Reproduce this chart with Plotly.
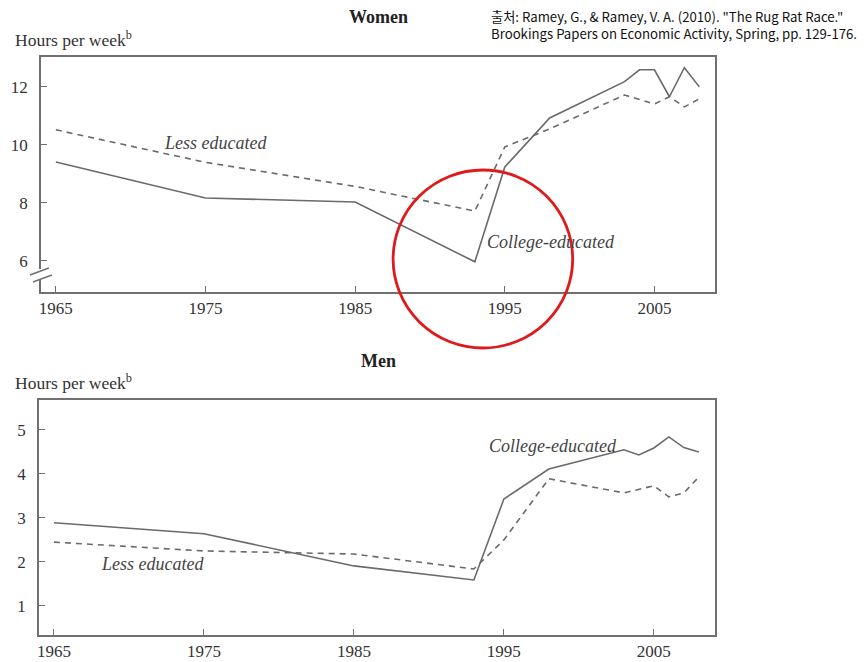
import plotly.graph_objects as go

W, H = 867, 662

# ---------------- data ----------------
women_years_college = [1965, 1975, 1985, 1993, 1995, 1998, 2003, 2004, 2005, 2006, 2007, 2008]
women_college = [9.41, 8.17, 8.03, 5.97, 9.24, 10.93, 12.18, 12.59, 12.59, 11.66, 12.66, 12.0]
women_years_less = [1965, 1975, 1985, 1993, 1995, 1998, 2003, 2005, 2006, 2007, 2008]
women_less = [10.52, 9.40, 8.57, 7.72, 9.93, 10.55, 11.72, 11.41, 11.66, 11.31, 11.59]

men_years_college = [1965, 1975, 1985, 1993, 1995, 1998, 2003, 2004, 2005, 2006, 2007, 2008]
men_college = [2.89, 2.64, 1.91, 1.59, 3.43, 4.11, 4.55, 4.43, 4.59, 4.84, 4.60, 4.50]
men_years_less = [1965, 1975, 1985, 1993, 1995, 1998, 2003, 2005, 2006, 2007, 2008]
men_less = [2.45, 2.25, 2.18, 1.84, 2.50, 3.89, 3.57, 3.73, 3.48, 3.57, 3.93]

x_ticks = [1965, 1975, 1985, 1995, 2005]
women_y_ticks = [6, 8, 10, 12]
men_y_ticks = [1, 2, 3, 4, 5]

LINE = "#6a6a6a"
AX = "#707070"
TXT = "#333333"
SERIF = "Liberation Serif, Times New Roman, serif"

def px_x(p):
    return p / W

def px_y(p):
    return 1 - p / H

fig = go.Figure()

fig.add_trace(go.Scatter(x=women_years_college, y=women_college, mode="lines",
                         line=dict(color=LINE, width=1.6), xaxis="x", yaxis="y", showlegend=False))
fig.add_trace(go.Scatter(x=women_years_less, y=women_less, mode="lines",
                         line=dict(color=LINE, width=1.6, dash="6px,5px"), xaxis="x", yaxis="y", showlegend=False))
fig.add_trace(go.Scatter(x=men_years_college, y=men_college, mode="lines",
                         line=dict(color=LINE, width=1.6), xaxis="x2", yaxis="y2", showlegend=False))
fig.add_trace(go.Scatter(x=men_years_less, y=men_less, mode="lines",
                         line=dict(color=LINE, width=1.6, dash="6px,5px"), xaxis="x2", yaxis="y2", showlegend=False))

axis_common = dict(showline=True, linecolor=AX, linewidth=1.6, mirror=True,
                   showgrid=False, zeroline=False, ticks="inside", ticklen=6,
                   tickcolor=AX, tickwidth=1.3,
                   tickfont=dict(family=SERIF, size=17, color=TXT))

fig.update_layout(
    width=W, height=H,
    margin=dict(l=0, r=0, t=0, b=0),
    paper_bgcolor="white", plot_bgcolor="white",
    xaxis=dict(domain=[px_x(39), px_x(715)], range=[1964.0, 2009.07],
               tickvals=x_ticks, anchor="y", **axis_common),
    yaxis=dict(domain=[px_y(292), px_y(57)], range=[4.93, 13.03],
               tickvals=women_y_ticks, anchor="x", ticklabelstandoff=8, **axis_common),
    xaxis2=dict(domain=[px_x(37), px_x(715)], range=[1964.0, 2009.1],
                tickvals=x_ticks, anchor="y2", **axis_common),
    yaxis2=dict(domain=[px_y(635), px_y(400)], range=[0.34, 5.68],
                tickvals=men_y_ticks, anchor="x2", ticklabelstandoff=8, **axis_common),
)

ann = []
ann.append(dict(text="<b>Women</b>", x=px_x(377), y=px_y(17), xref="paper", yref="paper",
                xanchor="center", yanchor="middle",
                showarrow=False, font=dict(family=SERIF, size=18, color="#222")))
ann.append(dict(text="<b>Men</b>", x=px_x(377), y=px_y(361), xref="paper", yref="paper",
                xanchor="center", yanchor="middle",
                showarrow=False, font=dict(family=SERIF, size=18, color="#222")))
for yy in (39, 382):
    ann.append(dict(text="Hours per week<sup>b</sup>", x=px_x(11), y=px_y(yy), xref="paper", yref="paper",
                    xanchor="left", yanchor="middle", showarrow=False,
                    font=dict(family=SERIF, size=17.5, color=TXT)))
ann.append(dict(text="<i>Less educated</i>", x=1975.67, y=10.07, xref="x", yref="y", showarrow=False,
                font=dict(family=SERIF, size=18, color="#444")))
ann.append(dict(text="<i>College-educated</i>", x=1998.1, y=6.66, xref="x", yref="y", showarrow=False,
                font=dict(family=SERIF, size=18, color="#444")))
ann.append(dict(text="<i>College-educated</i>", x=1998.3, y=4.64, xref="x2", yref="y2", showarrow=False,
                font=dict(family=SERIF, size=18, color="#444")))
ann.append(dict(text="<i>Less educated</i>", x=1971.6, y=1.95, xref="x2", yref="y2", showarrow=False,
                font=dict(family=SERIF, size=18, color="#444")))
ann.append(dict(text='출처: Ramey, G., & Ramey, V. A. (2010). "The Rug Rat Race."<br>'
                     'Brookings Papers on Economic Activity, Spring, pp. 129-176.',
                x=px_x(859), y=px_y(25), xref="paper", yref="paper", xanchor="right", yanchor="middle",
                align="left", showarrow=False,
                font=dict(family="Noto Sans CJK KR, Noto Sans, sans-serif", size=13.2, color="#111")))
fig.update_layout(annotations=ann)

shapes = []
# axis break on women's y axis
shapes.append(dict(type="rect", xref="paper", yref="paper",
                   x0=px_x(35), x1=px_x(44), y0=px_y(279), y1=px_y(269),
                   fillcolor="white", line=dict(width=0), layer="above"))
shapes.append(dict(type="line", xref="paper", yref="paper",
                   x0=px_x(28), y0=px_y(275), x1=px_x(47), y1=px_y(268),
                   line=dict(color=AX, width=1.4), layer="above"))
shapes.append(dict(type="line", xref="paper", yref="paper",
                   x0=px_x(31), y0=px_y(282), x1=px_x(50), y1=px_y(275),
                   line=dict(color=AX, width=1.4), layer="above"))
# red highlight circle
shapes.append(dict(type="circle", xref="paper", yref="paper",
                   x0=px_x(392), x1=px_x(572), y0=px_y(348), y1=px_y(170),
                   line=dict(color="#e0191c", width=2.8), fillcolor="rgba(0,0,0,0)", layer="above"))
fig.update_layout(shapes=shapes)

fig.write_html("out.html", config={"displayModeBar": False},
               post_script="document.body.style.margin='0';document.body.style.overflow='hidden';")
